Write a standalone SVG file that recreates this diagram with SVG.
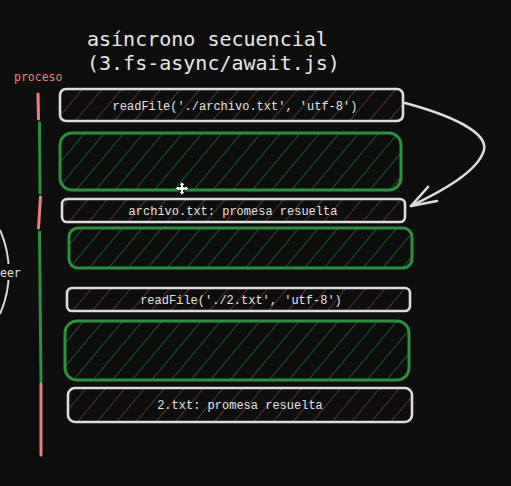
<svg xmlns="http://www.w3.org/2000/svg" width="511" height="486" viewBox="0 0 511 486">
<defs>
<pattern id="hr" width="15" height="15" patternUnits="userSpaceOnUse" patternTransform="rotate(40)">
<line x1="0" y1="0" x2="0" y2="15" stroke="#7a3c3c" stroke-width="1.4"/>
</pattern>
<pattern id="hg" width="15" height="15" patternUnits="userSpaceOnUse" patternTransform="rotate(40)">
<line x1="0" y1="0" x2="0" y2="15" stroke="#1e7a2e" stroke-width="1.4"/>
</pattern>
</defs>
<style>
.w{fill:url(#hr);stroke:#dcdcdc;stroke-width:2.6}
.g{fill:url(#hg);stroke:#2e8f3e;stroke-width:3}
.t{font-family:"Liberation Mono","DejaVu Sans Mono",monospace;font-size:12px;fill:#e2e2e2;text-anchor:middle}
.title{font-family:"DejaVu Sans Mono","Liberation Mono",monospace;font-size:20px;fill:#e6e6e6}
.red{stroke:#ee7f7f;stroke-width:3;stroke-linecap:round;fill:none}
.grn{stroke:#2e8f3e;stroke-width:3;stroke-linecap:round;fill:none}
</style>
<rect width="511" height="486" fill="#0e0e0e"/>
<g id="title">
<text class="title" x="87" y="46">asíncrono secuencial</text>
<text class="title" x="87" y="70">(3.fs-async/await.js)</text>
</g>
<g id="proceso-label">
<text x="14" y="81" font-family="DejaVu Sans Mono,Liberation Mono,monospace" font-size="11.5" fill="#ee7f7f">proceso</text>
</g>
<g id="timeline">
<line class="red" x1="38" y1="94" x2="38.5" y2="119"/>
<line class="grn" x1="39.5" y1="123" x2="40" y2="193"/>
<line class="red" x1="40.5" y1="197" x2="38.5" y2="228"/>
<line class="grn" x1="39.5" y1="232" x2="41" y2="382"/>
<line class="red" x1="41" y1="384" x2="41" y2="455"/>
</g>
<g id="leer-circle">
<path d="M 0 230 A 104 104 0 0 1 0 314" fill="none" stroke="#d6d6d6" stroke-width="2"/>
<rect x="0" y="264" width="24" height="16" fill="#0e0e0e"/>
<text x="0" y="277" font-family="DejaVu Sans Mono,Liberation Mono,monospace" font-size="11.5" fill="#e2e2e2">eer</text>
</g>
<g id="box1">
<rect class="w" x="60" y="89" width="343" height="32" rx="6"/>
<text class="t" x="235" y="110">readFile('./archivo.txt', 'utf-8')</text>
</g>
<g id="wait1">
<rect class="g" x="60" y="133" width="341" height="57" rx="12"/>
</g>
<g id="box2">
<rect class="w" x="62" y="199" width="343" height="23" rx="5"/>
<text class="t" x="233" y="215">archivo.txt: promesa resuelta</text>
</g>
<g id="wait2">
<rect class="g" x="69" y="228" width="343" height="40" rx="9"/>
</g>
<g id="box3">
<rect class="w" x="67" y="288" width="343" height="23" rx="5"/>
<text class="t" x="241" y="304">readFile('./2.txt', 'utf-8')</text>
</g>
<g id="wait3">
<rect class="g" x="65" y="321" width="344" height="59" rx="12"/>
</g>
<g id="box4">
<rect class="w" x="68" y="388" width="344" height="34" rx="7"/>
<text class="t" x="240" y="409">2.txt: promesa resuelta</text>
</g>
<g id="connectors" fill="none" stroke="#dcdcdc" stroke-width="2.6" stroke-linecap="round" stroke-linejoin="round">
<path d="M 405 103 C 450 115 488 132 484 150 C 478 172 440 192 411 206"/>
<path d="M 428 187 L 411 206 L 437 201"/>
</g>
<g id="cursor" fill="#ffffff" stroke="#000" stroke-width="0.7">
<path d="M182 182 L185 185 L183.5 185 L183.5 187 L185.5 187 L185.5 185.5 L188.5 188.5 L185.5 191.5 L185.5 190 L183.5 190 L183.5 192 L185 192 L182 195 L179 192 L180.5 192 L180.5 190 L178.5 190 L178.5 191.5 L175.5 188.5 L178.5 185.5 L178.5 187 L180.5 187 L180.5 185 L179 185 Z"/>
</g>
</svg>
